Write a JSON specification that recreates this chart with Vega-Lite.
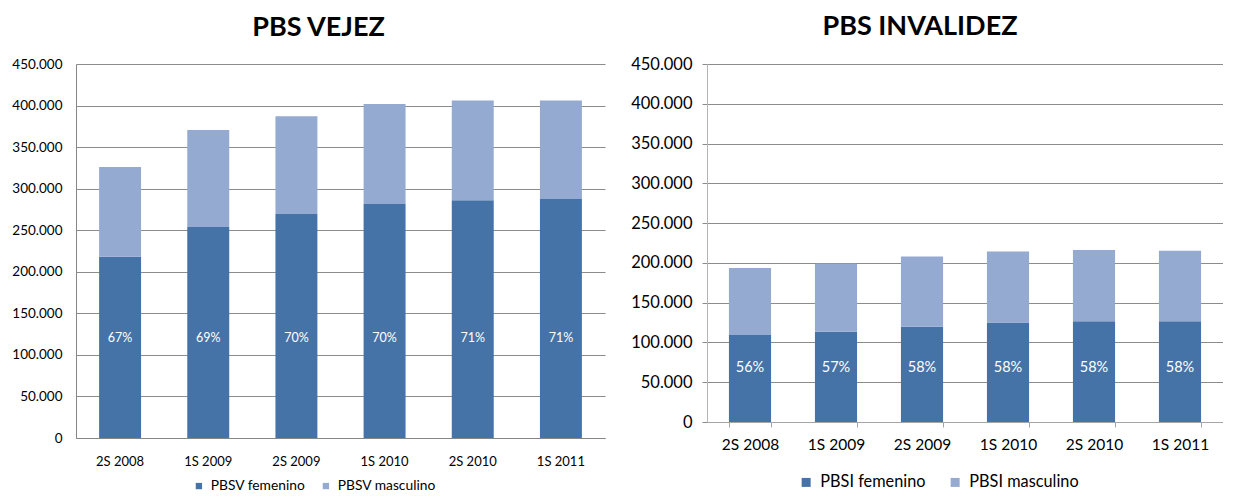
{
  "$schema": "https://vega.github.io/schema/vega-lite/v6.json",
  "padding": {"left": 0, "top": 13, "right": 0, "bottom": 0},
  "config": {
    "locale": {"number": {"decimal": ",", "thousands": ".", "grouping": [3], "currency": ["$", ""]}},
    "view": {"stroke": null},
    "font": "Lato",
    "axis": {"labelFont": "Lato", "labelColor": "#000000", "title": null, "domainColor": "#868686", "gridColor": "#8c8c8c", "tickColor": "#868686", "labelOverlap": false},
    "legend": {"labelFont": "Lato", "labelColor": "#000000"},
    "concat": {"spacing": 22}
  },
  "datasets": {
    "vejez": [
      {"periodo": "2S 2008", "serie": "PBSV femenino", "valor": 218000, "pct": "67%"},
      {"periodo": "2S 2008", "serie": "PBSV masculino", "valor": 108000},
      {"periodo": "1S 2009", "serie": "PBSV femenino", "valor": 254000, "pct": "69%"},
      {"periodo": "1S 2009", "serie": "PBSV masculino", "valor": 116500},
      {"periodo": "2S 2009", "serie": "PBSV femenino", "valor": 269500, "pct": "70%"},
      {"periodo": "2S 2009", "serie": "PBSV masculino", "valor": 117500},
      {"periodo": "1S 2010", "serie": "PBSV femenino", "valor": 281500, "pct": "70%"},
      {"periodo": "1S 2010", "serie": "PBSV masculino", "valor": 120500},
      {"periodo": "2S 2010", "serie": "PBSV femenino", "valor": 286000, "pct": "71%"},
      {"periodo": "2S 2010", "serie": "PBSV masculino", "valor": 120000},
      {"periodo": "1S 2011", "serie": "PBSV femenino", "valor": 287500, "pct": "71%"},
      {"periodo": "1S 2011", "serie": "PBSV masculino", "valor": 118500}
    ],
    "invalidez": [
      {"periodo": "2S 2008", "serie": "PBSI femenino", "valor": 109500, "pct": "56%"},
      {"periodo": "2S 2008", "serie": "PBSI masculino", "valor": 84000},
      {"periodo": "1S 2009", "serie": "PBSI femenino", "valor": 113400, "pct": "57%"},
      {"periodo": "1S 2009", "serie": "PBSI masculino", "valor": 85600},
      {"periodo": "2S 2009", "serie": "PBSI femenino", "valor": 119800, "pct": "58%"},
      {"periodo": "2S 2009", "serie": "PBSI masculino", "valor": 88100},
      {"periodo": "1S 2010", "serie": "PBSI femenino", "valor": 125200, "pct": "58%"},
      {"periodo": "1S 2010", "serie": "PBSI masculino", "valor": 89000},
      {"periodo": "2S 2010", "serie": "PBSI femenino", "valor": 126500, "pct": "58%"},
      {"periodo": "2S 2010", "serie": "PBSI masculino", "valor": 89800},
      {"periodo": "1S 2011", "serie": "PBSI femenino", "valor": 126500, "pct": "58%"},
      {"periodo": "1S 2011", "serie": "PBSI masculino", "valor": 88900}
    ]
  },
  "hconcat": [
    {
      "width": 529,
      "height": 374,
      "title": {"text": "PBS VEJEZ", "fontSize": 27, "fontWeight": "bold", "font": "Lato", "color": "#000000", "anchor": "middle", "frame": "group", "dx": -22, "baseline": "alphabetic", "offset": -6},
      "data": {"name": "vejez"},
      "layer": [
        {
          "mark": {"type": "bar"},
          "encoding": {
            "x": {"field": "periodo", "type": "nominal", "sort": null,
              "scale": {"paddingInner": 0.524, "paddingOuter": 0.262},
              "axis": {"labelAngle": 0, "ticks": false, "labelFontSize": 13, "labelPadding": 17, "domainColor": "#868686"}},
            "y": {"field": "valor", "type": "quantitative", "stack": "zero",
              "scale": {"domain": [0, 450000], "nice": false},
              "axis": {"values": [0, 50000, 100000, 150000, 200000, 250000, 300000, 350000, 400000, 450000], "format": ",d", "ticks": false, "labelFontSize": 13.5, "labelPadding": 14, "minExtent": 76, "maxExtent": 76, "labelOverlap": false}},
            "color": {"field": "serie", "type": "nominal",
              "scale": {"domain": ["PBSV femenino", "PBSV masculino"], "range": ["#4573A7", "#95AAD1"]},
              "legend": {"orient": "none", "legendX": 116, "legendY": 415, "direction": "horizontal", "title": null, "symbolType": "square", "symbolSize": 40, "labelFontSize": 13.8, "columnPadding": 13, "labelOffset": 5, "symbolStrokeWidth": 0}},
            "order": {"field": "serie", "sort": "ascending"}
          }
        },
        {
          "transform": [{"filter": "datum.pct != null"}],
          "mark": {"type": "text", "color": "white", "fontSize": 12.5, "baseline": "middle", "font": "Lato"},
          "encoding": {
            "x": {"field": "periodo", "type": "nominal", "sort": null},
            "y": {"datum": 120000, "type": "quantitative",
              "axis": {"values": [0, 50000, 100000, 150000, 200000, 250000, 300000, 350000, 400000, 450000], "format": ",d", "ticks": false, "labelFontSize": 13.5, "labelPadding": 14, "minExtent": 76, "maxExtent": 76, "labelOverlap": false}},
            "text": {"field": "pct"}
          }
        }
      ]
    },
    {
      "width": 516,
      "height": 358,
      "title": {"text": "PBS INVALIDEZ", "fontSize": 27, "fontWeight": "bold", "font": "Lato", "color": "#000000", "anchor": "middle", "frame": "group", "dx": -45, "baseline": "alphabetic", "offset": -6},
      "data": {"name": "invalidez"},
      "layer": [
        {
          "mark": {"type": "bar"},
          "encoding": {
            "x": {"field": "periodo", "type": "nominal", "sort": null,
              "scale": {"paddingInner": 0.51, "paddingOuter": 0.255},
              "axis": {"labelAngle": 0, "ticks": true, "tickBand": "extent", "tickSize": 5, "labelFontSize": 15.5, "labelPadding": 10, "domainColor": "#a6a6a6", "tickColor": "#a6a6a6"}},
            "y": {"field": "valor", "type": "quantitative", "stack": "zero",
              "scale": {"domain": [0, 450000], "nice": false},
              "axis": {"values": [0, 50000, 100000, 150000, 200000, 250000, 300000, 350000, 400000, 450000], "format": ",d", "ticks": true, "tickSize": 5, "labelFontSize": 16.5, "labelPadding": 10, "minExtent": 80, "maxExtent": 80, "labelOverlap": false, "domainColor": "#b5b5b5", "tickColor": "#8c8c8c", "gridColor": "#8c8c8c"}},
            "color": {"field": "serie", "type": "nominal",
              "scale": {"domain": ["PBSI femenino", "PBSI masculino"], "range": ["#4573A7", "#95AAD1"]},
              "legend": {"orient": "none", "legendX": 91, "legendY": 410, "direction": "horizontal", "title": null, "symbolType": "square", "symbolSize": 81, "labelFontSize": 16.3, "columnPadding": 21, "labelOffset": 6, "symbolStrokeWidth": 0}},
            "order": {"field": "serie", "sort": "ascending"}
          }
        },
        {
          "transform": [{"filter": "datum.pct != null"}],
          "mark": {"type": "text", "color": "white", "fontSize": 14.5, "baseline": "middle", "font": "Lato"},
          "encoding": {
            "x": {"field": "periodo", "type": "nominal", "sort": null},
            "y": {"datum": 68000, "type": "quantitative",
              "axis": {"values": [0, 50000, 100000, 150000, 200000, 250000, 300000, 350000, 400000, 450000], "format": ",d", "ticks": true, "tickSize": 5, "labelFontSize": 16.5, "labelPadding": 10, "minExtent": 80, "maxExtent": 80, "labelOverlap": false, "domainColor": "#b5b5b5", "tickColor": "#8c8c8c", "gridColor": "#8c8c8c"}},
            "text": {"field": "pct"}
          }
        }
      ]
    }
  ],
  "resolve": {"scale": {"color": "independent"}}
}
